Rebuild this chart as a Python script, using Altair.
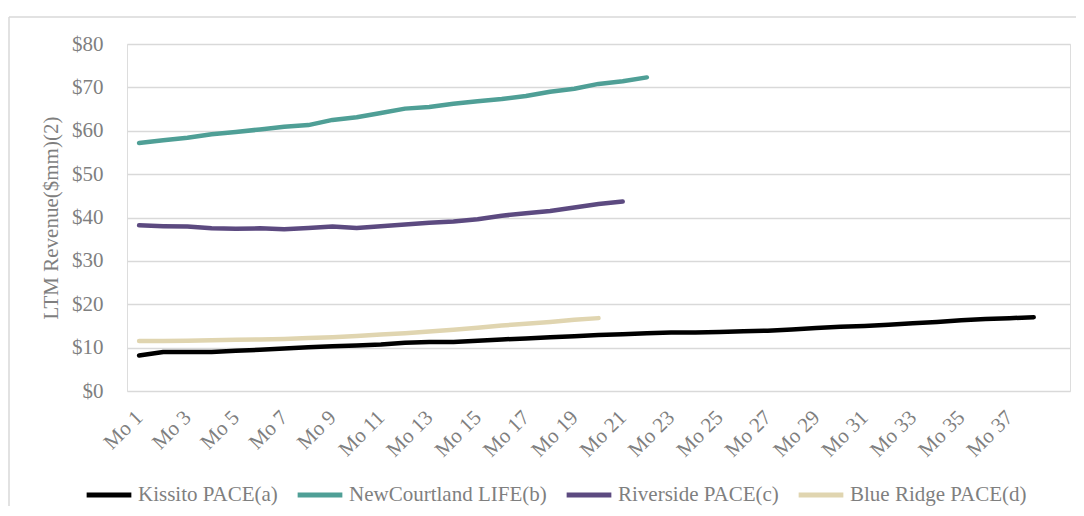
import altair as alt
import pandas as pd

months = [f"Mo {i}" for i in range(1, 40)]
label_months = [f"Mo {i}" for i in range(1, 38, 2)]

series_names = ["Kissito PACE(a)", "NewCourtland LIFE(b)", "Riverside PACE(c)", "Blue Ridge PACE(d)"]
series_colors = ["#000000", "#4F9F96", "#5C4A80", "#E0D5B0"]

kissito = [8.2, 9.0, 9.0, 9.0, 9.3, 9.5, 9.8, 10.1, 10.3, 10.5, 10.7, 11.1, 11.3, 11.3, 11.6,
           11.9, 12.1, 12.4, 12.6, 12.9, 13.1, 13.3, 13.5, 13.5, 13.6, 13.8, 13.9, 14.2, 14.5,
           14.8, 15.0, 15.3, 15.6, 15.9, 16.3, 16.6, 16.8, 17.0]
newcourtland = [57.2, 57.8, 58.4, 59.2, 59.7, 60.3, 60.9, 61.3, 62.5, 63.1, 64.1, 65.1, 65.5,
                66.2, 66.8, 67.3, 68.0, 69.0, 69.7, 70.8, 71.4, 72.3]
riverside = [38.2, 38.0, 37.9, 37.5, 37.4, 37.5, 37.3, 37.6, 37.9, 37.6, 38.0, 38.4, 38.8,
             39.1, 39.6, 40.4, 41.0, 41.5, 42.3, 43.1, 43.7]
blueridge = [11.5, 11.5, 11.6, 11.7, 11.8, 11.9, 12.0, 12.2, 12.4, 12.7, 13.0, 13.3, 13.7,
             14.1, 14.6, 15.1, 15.5, 15.9, 16.4, 16.8]

rows = []
for name, vals in zip(series_names, [kissito, newcourtland, riverside, blueridge]):
    for i, v in enumerate(vals):
        rows.append({"month": months[i], "idx": i, "series": name, "value": v})
df = pd.DataFrame(rows)

FONT = "Liberation Serif"
GRAY = "#7f7f7f"

lines = alt.Chart(df).mark_line(strokeWidth=4.5, strokeCap="round", strokeJoin="round").encode(
    x=alt.X("month:O", sort=months,
            scale=alt.Scale(domain=months, padding=0.5),
            axis=alt.Axis(values=label_months, labelAngle=-45, labelAlign="right",
                          labelBaseline="middle", labelFontSize=21, labelFont=FONT,
                          labelColor=GRAY, labelPadding=23, ticks=False, domain=False,
                          grid=False, title=None)),
    y=alt.Y("value:Q", scale=alt.Scale(domain=[0, 80]),
            axis=alt.Axis(values=list(range(0, 81, 10)), format="$,.0f",
                          labelFontSize=21, labelFont=FONT, labelColor=GRAY,
                          labelPadding=24, ticks=False, domain=False,
                          gridColor="#d9d9d9", gridWidth=1.5,
                          title="LTM Revenue($mm)(2)", titleFont=FONT,
                          titleFontSize=21, titleFontWeight="normal",
                          titleColor=GRAY, titlePadding=10)),
    color=alt.Color("series:N", sort=series_names,
                    scale=alt.Scale(domain=series_names, range=series_colors),
                    legend=alt.Legend(orient="none", legendX=-43, legendY=426,
                                      direction="horizontal", title=None,
                                      symbolType="stroke", symbolStrokeWidth=5,
                                      symbolSize=2000, labelFont=FONT,
                                      labelFontSize=21, labelColor=GRAY,
                                      labelLimit=400,
                                      labelOffset=4, columnPadding=9)),
    order=alt.Order("idx:Q"),
)

frame_df = pd.DataFrame({"k": [0]})
top_rule = alt.Chart(frame_df).mark_rule(color="#d9d9d9", strokeWidth=1.5, clip=False).encode(
    x=alt.value(-118), x2=alt.value(960), y=alt.value(-27))
left_rule = alt.Chart(frame_df).mark_rule(color="#d9d9d9", strokeWidth=1.5, clip=False).encode(
    x=alt.value(-118), y=alt.value(-27), y2=alt.value(480))

chart = alt.layer(top_rule, left_rule, lines).properties(
    width=943, height=347,
    autosize=alt.AutoSizeParams(type="none"),
    padding={"left": 119, "top": 36, "right": 6, "bottom": 115},
).configure_view(stroke=None).configure(background="white")

chart.save("out.html", embed_options={"renderer": "svg", "actions": False})
